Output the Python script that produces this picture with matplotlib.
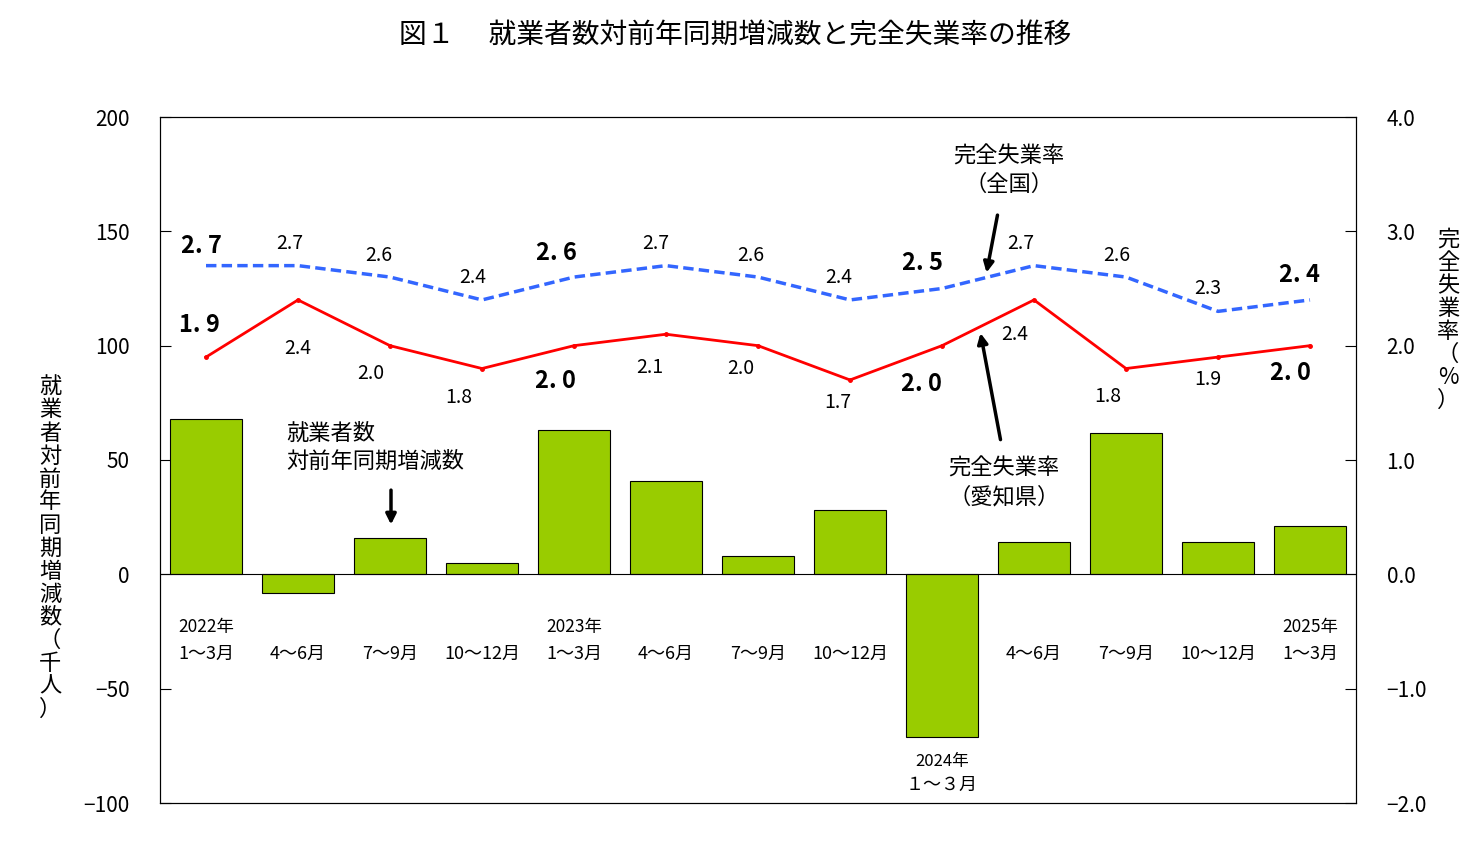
import matplotlib
matplotlib.use("Agg")
import matplotlib.pyplot as plt

plt.rcParams['font.family'] = ['Noto Sans CJK JP', 'DejaVu Sans']

cat_top = ["2022年", "", "", "", "2023年", "", "", "", "2024年", "", "", "", "2025年"]
cat_bot = ["1～3月", "4～6月", "7～9月", "10～12月", "1～3月", "4～6月", "7～9月", "10～12月",
           "1～3月", "4～6月", "7～9月", "10～12月", "1～3月"]
employ_change = [68, -8, 16, 5, 63, 41, 8, 28, -71, 14, 62, 14, 21]
rate_national = [2.7, 2.7, 2.6, 2.4, 2.6, 2.7, 2.6, 2.4, 2.5, 2.7, 2.6, 2.3, 2.4]
rate_aichi = [1.9, 2.4, 2.0, 1.8, 2.0, 2.1, 2.0, 1.7, 2.0, 2.4, 1.8, 1.9, 2.0]
bold_idx = [0, 4, 8, 12]

nat_off = [(-5, 20), (-8, 22), (-11, 22), (-9, 22), (-18, 24), (-10, 22), (-7, 22), (-11, 22),
           (-20, 26), (-13, 22), (-9, 22), (-10, 23), (-11, 25)]
aic_off = [(-7, 32), (0, -49), (-19, -28), (-23, -29), (-19, -35), (-16, -33), (-17, -23),
           (-12, -23), (-21, -38), (-19, -35), (-18, -28), (-10, -22), (-20, -27)]

fig = plt.figure(figsize=(14.7, 8.48), dpi=100)
ax = fig.add_axes([160/1470, 45/848, 1196/1470, 686/848])
ax2 = ax.twinx()
x = list(range(len(employ_change)))

ax.bar(x, employ_change, width=0.78, color='#99cc00', edgecolor='black', linewidth=0.8, zorder=2)
ax.axhline(0, color='black', linewidth=0.8, zorder=3)
ax.set_xlim(-0.5, 12.5)
ax.set_ylim(-100, 200)
ax.set_yticks([-100, -50, 0, 50, 100, 150, 200])
ax.set_yticklabels(["−100", "−50", "0", "50", "100", "150", "200"])
ax.set_xticks([])
ax.tick_params(axis='y', direction='in', labelsize=15, length=8, pad=22)

ax2.set_ylim(-2.0, 4.0)
ax2.set_yticks([-2, -1, 0, 1, 2, 3, 4])
ax2.set_yticklabels(["−2.0", "−1.0", "0.0", "1.0", "2.0", "3.0", "4.0"])
ax2.tick_params(axis='y', direction='in', labelsize=15, length=8, pad=22)

ax2.plot(x, rate_national, color='#3366ff', linestyle='--', linewidth=2.5, dashes=(3, 1.5))
ax2.plot(x, rate_aichi, color='#ff0000', linewidth=2, marker='o', markersize=2.5)

for i in x:
    b = i in bold_idx
    for vals, off in ((rate_national, nat_off), (rate_aichi, aic_off)):
        s = f"{vals[i]:.1f}"
        if b:
            s = s.replace(".", ". ")
        ax2.annotate(s, (i, vals[i]), xytext=off[i], textcoords='offset pixels',
                     ha='center', va='center', fontsize=17 if b else 14,
                     fontweight='bold' if b else 'normal')

for i in x:
    if i == 8:
        ax.text(i, -82, cat_top[i], ha='center', va='center', fontsize=12)
        ax.text(i, -92, "１～３月", ha='center', va='center', fontsize=13)
    else:
        if cat_top[i]:
            ax.text(i, -23, cat_top[i], ha='center', va='center', fontsize=12.5)
        ax.text(i, -35, cat_bot[i], ha='center', va='center', fontsize=13)

def dx(px): return (px - 205) / 92
def dy(py): return (574 - py) / 2.287

ax.text(dx(285), dy(447), "就業者数\n対前年同期増減数", ha='left', va='center', fontsize=16, linespacing=1.3)
ax.annotate("", xy=(dx(390), dy(527)), xytext=(dx(390), dy(487)),
            arrowprops=dict(arrowstyle='-|>', color='black', lw=2.5, mutation_scale=15))
ax.text(dx(1008), dy(170), "完全失業率\n（全国）", ha='center', va='center', fontsize=16, linespacing=1.3)
ax.annotate("", xy=(dx(985), dy(275)), xytext=(dx(997), dy(212)),
            arrowprops=dict(arrowstyle='-|>', color='black', lw=2.5, mutation_scale=15))
ax.text(dx(1003), dy(482), "完全失業率\n（愛知県）", ha='center', va='center', fontsize=16, linespacing=1.3)
ax.annotate("", xy=(dx(979), dy(330)), xytext=(dx(1000), dy(442)),
            arrowprops=dict(arrowstyle='-|>', color='black', lw=2.5, mutation_scale=15))

fig.text(735/1470, 1 - 35/848, "図１　 就業者数対前年同期増減数と完全失業率の推移", ha='center', va='center', fontsize=20)
fig.text(50/1470, 1 - 548/848, "\n".join("就業者対前年同期増減数（千人）"), ha='center', va='center',
         fontsize=16, linespacing=1.0)
fig.text(1448/1470, 1 - 320/848, "\n".join("完全失業率（%）"), ha='center', va='center',
         fontsize=16, linespacing=1.0)

fig.savefig("out.png", dpi=100)
